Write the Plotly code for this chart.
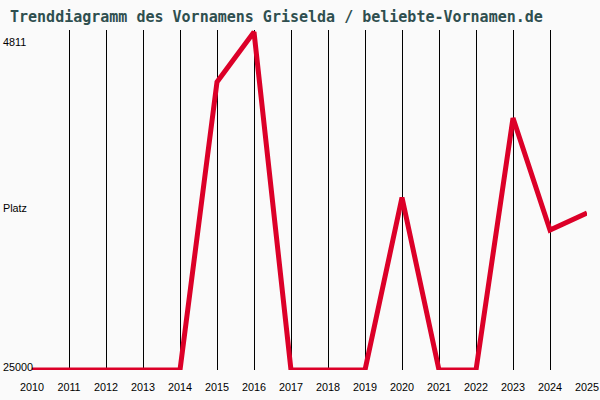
import plotly.graph_objects as go

years = list(range(2010, 2026))
ranks = [25000, 25000, 25000, 25000, 25000, 7800, 4811, 25000, 25000, 25000,
         14700, 25000, 25000, 9950, 16640, 15620]
y_labels = ["4811", "Platz", "25000"]
x_labels = [str(y) for y in years]
title_text = "Trenddiagramm des Vornamens Griselda / beliebte-Vornamen.de"

bg = "#FAFAFA"
fig = go.Figure()
fig.add_trace(go.Scatter(
    x=years, y=ranks, mode="lines",
    line=dict(color="#DC0028", width=5),
    cliponaxis=False, hoverinfo="skip", showlegend=False,
))

fig.update_layout(
    width=600, height=400,
    paper_bgcolor=bg, plot_bgcolor=bg,
    margin=dict(l=32, r=13, t=30, b=30, autoexpand=False),
    title=dict(text=title_text, x=10/600, xanchor="left", y=1-17/400, yanchor="middle",
               font=dict(family="DejaVu Sans Mono", size=15, color="#2F4F4F", weight="bold")),
    xaxis=dict(range=[2010, 2025], tickvals=years, ticktext=x_labels,
               showgrid=True, gridcolor="black", gridwidth=1, zeroline=False,
               showline=False, ticks="", ticklen=0, automargin=False,
               ticklabelstandoff=9,
               tickfont=dict(family="Liberation Sans", size=10.8, color="black")),
    yaxis=dict(range=[25000, 4692], showgrid=False, zeroline=False, showline=False,
               showticklabels=False, ticks="", automargin=False),
)

# y labels (chart draws them as fixed text on the left side)
ypos_px = [42, 208, 367]
for lab, yp in zip(y_labels, ypos_px):
    fig.add_annotation(text=lab, xref="paper", yref="paper",
                       x=(1 - 32) / 555, xanchor="left",
                       y=(370 - yp) / 340, yanchor="middle",
                       showarrow=False,
                       font=dict(family="Liberation Sans", size=10.8, color="black"))

fig.write_html("out.html", config={"displayModeBar": False},
               post_script="document.body.style.margin='0';document.body.style.overflow='hidden';")
